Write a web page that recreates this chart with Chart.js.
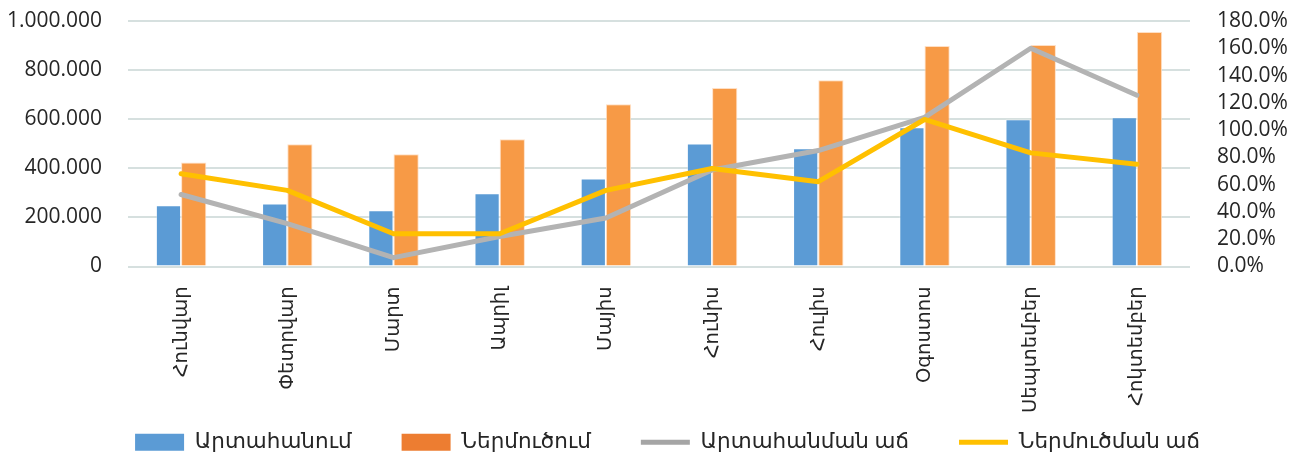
<!DOCTYPE html>
<html>
<head>
<meta charset="utf-8">
<script src="https://cdn.jsdelivr.net/npm/chart.js@4.4.1/dist/chart.umd.min.js"></script>
<style>
  html, body { margin: 0; padding: 0; background: #ffffff; }
  #wrap { width: 1301px; height: 458px; }
</style>
</head>
<body>
<div id="wrap"><canvas id="c" width="1301" height="458"></canvas></div>
<script>
const categories = ["Հունվար", "Փետրվար", "Մարտ", "Ապրիլ", "Մայիս", "Հունիս", "Հուլիս", "Օգոստոս", "Սեպտեմբեր", "Հոկտեմբեր"];
const exportValues = [250000, 257000, 229000, 298000, 358000, 501000, 482000, 567000, 600000, 608000];
const importValues = [424000, 498000, 457000, 518000, 661000, 727000, 759000, 898000, 902000, 955000];
const exportGrowth = [52.8, 31.5, 6.5, 22.0, 35.5, 70.8, 85.0, 109.3, 160.0, 125.6];
const importGrowth = [68.0, 55.8, 24.0, 24.0, 55.8, 71.8, 62.2, 107.8, 83.3, 75.0];
const seriesNames = ["Արտահանում", "Ներմուծում", "Արտահանման աճ", "Ներմուծման աճ"];
const leftTicks = [0, 200000, 400000, 600000, 800000, 1000000];
const rightTicks = [0, 20, 40, 60, 80, 100, 120, 140, 160, 180];

const FONT = "'Open Sans', 'DejaVu Sans', sans-serif";
const legendColors = ["#5B9BD5", "#ED7D31", "#A5A5A5", "#FFC000"];
const noClip = (s) => { s._computeLabelArea = () => undefined; };

new Chart(document.getElementById('c'), {
  data: {
    labels: categories,
    datasets: [
      { type: 'bar', label: seriesNames[0], data: exportValues, yAxisID: 'y',
        backgroundColor: '#5B9BD5', borderColor: 'rgba(255,255,255,0.35)', borderWidth: 1,
        categoryPercentage: 0.475, barPercentage: 1.0, order: 2 },
      { type: 'bar', label: seriesNames[1], data: importValues, yAxisID: 'y',
        backgroundColor: '#F79A46', borderColor: 'rgba(255,220,190,0.9)', borderWidth: 1,
        categoryPercentage: 0.475, barPercentage: 1.0, order: 2 },
      { type: 'line', label: seriesNames[2], data: exportGrowth, yAxisID: 'y1',
        borderColor: '#B3B3B3', backgroundColor: '#B3B3B3', borderWidth: 5,
        pointRadius: 0, pointHoverRadius: 0, tension: 0, fill: false,
        borderJoinStyle: 'round', borderCapStyle: 'round', order: 1 },
      { type: 'line', label: seriesNames[3], data: importGrowth, yAxisID: 'y1',
        borderColor: '#FFC000', backgroundColor: '#FFC000', borderWidth: 5,
        pointRadius: 0, pointHoverRadius: 0, tension: 0, fill: false,
        borderJoinStyle: 'round', borderCapStyle: 'round', order: 0 }
    ]
  },
  options: {
    responsive: false,
    animation: false,
    layout: { padding: { top: 21, left: 34, right: 0, bottom: -5 } },
    plugins: {
      tooltip: { enabled: false },
      legend: {
        position: 'bottom',
        align: 'center',
        labels: {
          usePointStyle: true,
          pointStyleWidth: 49,
          boxHeight: 17,
          padding: 50,
          color: '#262626',
          font: { family: FONT, size: 21.5 },
          generateLabels: (chart) => chart.data.datasets.map((ds, i) => ({
            text: ds.label,
            datasetIndex: i,
            fillStyle: legendColors[i],
            strokeStyle: legendColors[i],
            lineWidth: ds.type === 'line' ? 5 : 0,
            pointStyle: ds.type === 'line' ? 'line' : 'rect',
            fontColor: '#262626',
            hidden: false
          }))
        }
      }
    },
    scales: {
      x: {
        grid: { display: false, drawTicks: false },
        border: { display: false },
        ticks: {
          maxRotation: 90, minRotation: 90, autoSkip: false, padding: 20,
          color: '#262626', font: { family: FONT, size: 19.5 }
        },
        afterFit: (s) => { s.height = 115; noClip(s); }
      },
      y: {
        position: 'left',
        min: 0, max: 1000000,
        afterBuildTicks: (s) => { s.ticks = leftTicks.map(v => ({ value: v })); },
        grid: { color: '#D6E0DF', lineWidth: 2, drawTicks: true, tickLength: 26, tickColor: 'rgba(0,0,0,0)' },
        border: { display: false },
        ticks: {
          padding: 0, color: '#262626', font: { family: FONT, size: 21 },
          callback: (v) => String(v).replace(/\B(?=(\d{3})+(?!\d))/g, '.')
        },
        afterFit: (s) => { s.width = 94; noClip(s); }
      },
      y1: {
        position: 'right',
        min: 0, max: 180,
        afterBuildTicks: (s) => { s.ticks = rightTicks.map(v => ({ value: v })); },
        grid: { display: true, drawOnChartArea: false, drawTicks: true, tickLength: 27, tickColor: 'rgba(0,0,0,0)' },
        border: { display: false },
        ticks: {
          padding: 0, autoSkip: false, color: '#262626', font: { family: FONT, size: 21 },
          callback: (v) => Number(v).toFixed(1) + '%'
        },
        afterFit: (s) => { s.width = 111; noClip(s); }
      }
    }
  }
});
</script>
</body>
</html>
